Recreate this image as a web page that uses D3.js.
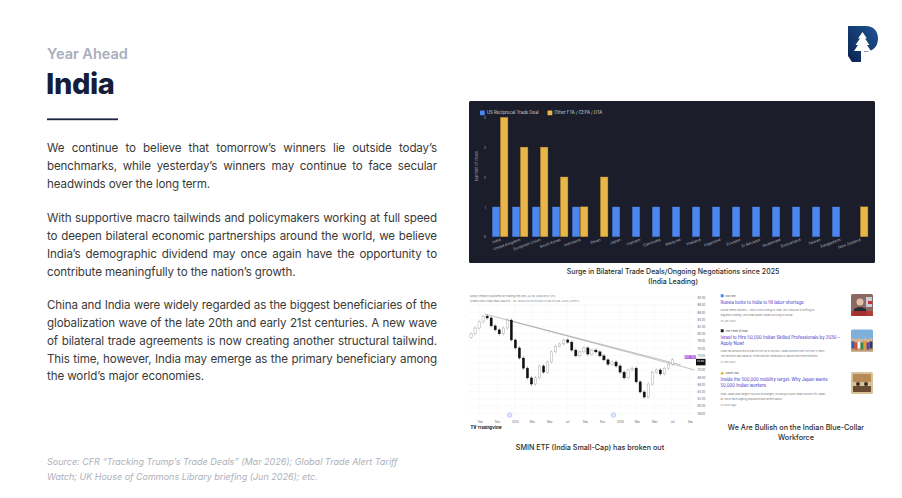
<!DOCTYPE html>
<html>
<head>
<meta charset="utf-8">
<script src="https://cdn.jsdelivr.net/npm/d3@7"></script>
<style>
  body { margin: 0; width: 902px; height: 498px; overflow: hidden; background: #fff; }
  svg { display: block; font-family: Inter, 'Noto Sans', sans-serif; }
</style>
</head>
<body>
<script>
// ---- bar chart data (deals per country) ----
const categories = ['India', 'United Kingdom', 'European Union', 'South Korea', 'Indonesia', 'Oman', 'Japan',
  'Vietnam', 'Cambodia', 'Malaysia', 'Thailand', 'Argentina', 'Ecuador', 'El Salvador', 'Guatemala',
  'Switzerland', 'Taiwan', 'Bangladesh', 'New Zealand'];
const usDeals    = [1, 1, 1, 1, 1, 0, 1, 1, 1, 1, 1, 1, 1, 1, 1, 1, 1, 1, 0];
const otherDeals = [4, 3, 3, 2, 1, 2, 0, 0, 0, 0, 0, 0, 0, 0, 0, 0, 0, 0, 1];
const dealTicks = [0, 1, 2, 3, 4];
const seriesNames = ['US Reciprocal Trade Deal', 'Other FTA / CEPA / DTA'];

// ---- SMIN weekly chart (bi-weekly closes) ----
const smStart = '2024-08-02';
const smFirstOpen = 79.0;
const smCloses = [80.0, 81.6, 83.3, 84.9, 84.4, 82.2, 81.1, 80.0, 81.6, 83.8,
  78.3, 76.1, 73.3, 70.5, 67.8, 66.1, 67.8, 71.1, 69.4, 72.2,
  75.0, 76.6, 77.2, 78.3, 77.7, 75.5, 73.9, 75.0, 76.1, 74.4,
  75.5, 75.0, 73.9, 72.8, 71.6, 72.2, 71.1, 69.4, 67.8, 70.0,
  70.5, 66.7, 63.9, 62.5, 66.1, 69.4, 70.0, 68.9, 70.5, 71.6, 72.8];
const smPriceTicks = [58, 60, 62, 64, 66, 68, 70, 72, 74, 76, 78, 80, 82, 84, 86, 88, 90];
const smDateTicks = ['2024-09-01', '2024-11-01', '2025-01-01', '2025-03-01', '2025-05-01', '2025-07-01',
  '2025-09-01', '2025-11-01', '2026-01-01', '2026-03-01', '2026-05-01', '2026-07-01', '2026-09-01'];
const smDateLabels = ['Sep', 'Nov', '2025', 'Mar', 'May', 'Jul', 'Sep', 'Nov', '2026', 'Mar', 'May', 'Jul', 'Sep'];
const smEvents = ['2024-12-14', '2025-12-10'];
const trendLines = [
  [['2024-09-18', 85.5], ['2026-09-18', 70.0]],
  [['2024-12-08', 83.8], ['2026-08-01', 71.4]]
];
const smLast = 72.8;

// ---- text content ----
const paragraphs = [
  ['We continue to believe that tomorrow\u2019s winners lie outside today\u2019s',
   'benchmarks, while yesterday\u2019s winners may continue to face secular',
   'headwinds over the long term.'],
  ['With supportive macro tailwinds and policymakers working at full speed',
   'to deepen bilateral economic partnerships around the world, we believe',
   'India\u2019s demographic dividend may once again have the opportunity to',
   'contribute meaningfully to the nation\u2019s growth.'],
  ['China and India were widely regarded as the biggest beneficiaries of the',
   'globalization wave of the late 20th and early 21st centuries. A new wave',
   'of bilateral trade agreements is now creating another structural tailwind.',
   'This time, however, India may emerge as the primary beneficiary among',
   'the world\u2019s major economies.']
];
const paraTops = [148, 218, 305];
const sourceLines = ['Source: CFR \u201cTracking Trump\u2019s Trade Deals\u201d (Mar 2026); Global Trade Alert Tariff',
  'Watch; UK House of Commons Library briefing (Jun 2026); etc.'];

const newsSources = ['DW.com', 'The Times of India', 'Nikkei Asia'];
const newsTitles = [
  ['Russia looks to India to fill labor shortage'],
  ['Israel to Hire 50,000 Indian Skilled Professionals by 2030 \u2013', 'Apply Now!'],
  ['Inside the 500,000 mobility target: Why Japan wants', '50,000 Indian workers']
];
const newsSnippets = [
  ['Russia needs workers \u2014 and is now turning to India. Why Moscow is shifting its',
   'migration strategy, and what awaits Indians arriving in Russia ...'],
  ['Israel has announced its plan to hire up to 50,000+ Indian workers over the next 5 years.',
   'The decision was made by Prime Minister Netanyahu\u2019s cabinet and three ministers ...'],
  ['India, Japan plan targets 500,000 exchanges, including 50,000 Indian workers for Japan,',
   'as Tokyo faces ageing population and severe labour ...']
];
const newsDates = ['25 Jan 2026', '27 Feb 2026', '23 hours ago'];

const W = 902, H = 498;
const svg = d3.select('body').append('svg').attr('width', W).attr('height', H);
svg.append('rect').attr('width', W).attr('height', H).attr('fill', '#fff');

// ============================================================
// Header + left column
// ============================================================
svg.append('text').attr('x', 47).attr('y', 58.5).text('Year Ahead')
  .attr('font-size', 14.5).attr('font-weight', 600).attr('fill', '#a9aebb');
svg.append('text').attr('x', 46).attr('y', 93.5).text('India')
  .attr('font-size', 29).attr('font-weight', 800).attr('fill', '#141d3a').attr('letter-spacing', -0.4);
svg.append('rect').attr('x', 47).attr('y', 118.4).attr('width', 71).attr('height', 1.8).attr('fill', '#1b2440');

const bodyW = 390;
paragraphs.forEach((lines, p) => {
  lines.forEach((ln, i) => {
    const t = svg.append('text')
      .attr('x', 47).attr('y', paraTops[p] + i * 17.8 + 4.2)
      .attr('font-size', 11.6).attr('letter-spacing', -0.12).attr('fill', '#3a3a3a')
      .text(ln);
    // justify every line except the last one of a paragraph
    if (i < lines.length - 1) {
      const w = t.node().getComputedTextLength();
      const gaps = ln.split(' ').length - 1;
      t.attr('word-spacing', (bodyW - w) / gaps);
    }
  });
});

sourceLines.forEach((ln, i) => {
  svg.append('text').attr('x', 47).attr('y', 465 + i * 14.5)
    .attr('font-size', 9).attr('font-style', 'italic').attr('fill', '#adb1ba').text(ln);
});

// logo
const defs = svg.append('defs');
const lg = defs.append('linearGradient').attr('id', 'logoGrad')
  .attr('x1', 0).attr('y1', 1).attr('x2', 1).attr('y2', 0);
lg.append('stop').attr('offset', 0).attr('stop-color', '#0a2250');
lg.append('stop').attr('offset', 1).attr('stop-color', '#1f5494');
svg.append('path')
  .attr('d', 'M848,26 H866 C873.5,26 878,31 878,38.5 C878,46 873.5,51.5 866,51.5 H863 V62 H852 L848,56 Z')
  .attr('fill', 'url(#logoGrad)');
svg.append('path')
  .attr('d', 'M862.5,32 L867,38.5 L865,38.5 L869.5,45 L867,45 L871,51 L864,51 L864,62 L861,62 L861,51 L854,51 L858,45 L855.5,45 L860,38.5 L858,38.5 Z')
  .attr('fill', '#fff');

// ============================================================
// Bar chart: bilateral trade deals
// ============================================================
const panel = svg.append('g');
panel.append('rect').attr('x', 469).attr('y', 101).attr('width', 406).attr('height', 162)
  .attr('rx', 1.5).attr('fill', '#1b1e2a');

const x0 = d3.scaleBand().domain(categories).range([488.3, 871.9]).paddingInner(0.22).paddingOuter(0.2);
const x1 = d3.scaleBand().domain(['us', 'other']).range([0, x0.bandwidth()]).paddingInner(0.08);
const yD = d3.scaleLinear().domain([0, 4]).range([236.7, 117.3]);
const barColors = { us: '#4b87ef', other: '#e8b548' };

const rows = categories.map((c, i) => ({ c, us: usDeals[i], other: otherDeals[i] }));
const grp = panel.selectAll('g.grp').data(rows).join('g').attr('class', 'grp')
  .attr('transform', d => `translate(${x0(d.c)},0)`);
grp.selectAll('rect').data(d => ['us', 'other'].map(k => ({ k, v: d[k] })).filter(e => e.v > 0))
  .join('rect')
  .attr('x', e => x1(e.k)).attr('width', x1.bandwidth())
  .attr('y', e => yD(e.v)).attr('height', e => yD(0) - yD(e.v))
  .attr('fill', e => barColors[e.k])
  .attr('stroke', e => e.k === 'other' ? '#b88a2a' : 'none').attr('stroke-width', 0.4);

const yAx = panel.append('g').attr('transform', 'translate(487,0)')
  .call(d3.axisLeft(yD).tickValues(dealTicks).tickSize(0).tickPadding(1).tickFormat(d3.format('d')));
yAx.select('.domain').remove();
yAx.selectAll('text').attr('font-size', 3.6).attr('fill', '#9aa0ab').attr('font-family', 'Inter, sans-serif');

panel.append('text').attr('transform', 'translate(477.5,166) rotate(-90)')
  .attr('text-anchor', 'middle').attr('font-size', 3.8).attr('fill', '#9aa0ab').text('Number of deals');

const xAx = panel.append('g').attr('transform', 'translate(0,238.5)')
  .call(d3.axisBottom(x0).tickSize(0).tickPadding(0));
xAx.select('.domain').remove();
xAx.selectAll('text')
  .attr('font-size', 3.8).attr('fill', '#a2a7b2').attr('font-family', 'Inter, sans-serif')
  .attr('text-anchor', 'end').attr('dy', '0.6em')
  .attr('transform', 'rotate(-20)');

// legend
const legX = [480, 547.5];
seriesNames.forEach((s, i) => {
  panel.append('rect').attr('x', legX[i]).attr('y', 110.5).attr('width', 4.8).attr('height', 4.8)
    .attr('rx', 0.6).attr('fill', i === 0 ? barColors.us : barColors.other);
  panel.append('text').attr('x', legX[i] + 6.8).attr('y', 114.4)
    .attr('font-size', 4.3).attr('fill', '#d2d6de').text(s);
});

svg.append('text').attr('x', 673).attr('y', 273.5).attr('text-anchor', 'middle')
  .attr('font-size', 7).attr('font-weight', 500).attr('fill', '#2b2b2b')
  .text('Surge in Bilateral Trade Deals/Ongoing Negotiations since 2025');
svg.append('text').attr('x', 673).attr('y', 283.5).attr('text-anchor', 'middle')
  .attr('font-size', 7).attr('font-weight', 500).attr('fill', '#2b2b2b').text('(India Leading)');

// ============================================================
// SMIN candlestick chart
// ============================================================
const parse = d3.utcParse('%Y-%m-%d');
const xT = d3.scaleUtc().domain([parse('2024-09-01'), parse('2026-09-01')]).range([479.7, 689.7]);
const yP = d3.scaleLinear().domain([58, 90]).range([413.3, 297.7]);
const sm = svg.append('g');

sm.selectAll('line.hg').data(smPriceTicks).join('line').attr('class', 'hg')
  .attr('x1', 469).attr('x2', 694).attr('y1', d => yP(d)).attr('y2', d => yP(d))
  .attr('stroke', '#f2f3f5').attr('stroke-width', 0.5);
sm.selectAll('line.vg').data(smDateTicks).join('line').attr('class', 'vg')
  .attr('x1', d => xT(parse(d))).attr('x2', d => xT(parse(d))).attr('y1', 304).attr('y2', 416)
  .attr('stroke', '#f4f5f7').attr('stroke-width', 0.5);

// price axis; the label hidden under the last-price tag is left blank, as on the platform
const pAx = sm.append('g').attr('transform', 'translate(696,0)')
  .call(d3.axisRight(yP).tickValues(smPriceTicks).tickSize(0).tickPadding(1.5)
    .tickFormat(d => Math.abs(yP(d) - yP(smLast)) < 4 ? '' : d3.format('.2f')(d)));
pAx.select('.domain').remove();
pAx.selectAll('text').attr('font-size', 2.8).attr('fill', '#666').attr('font-family', 'Inter, sans-serif');

const tAx = sm.append('g').attr('transform', 'translate(0,418.5)')
  .call(d3.axisBottom(xT).tickValues(smDateTicks.map(parse)).tickSize(0)
    .tickFormat((d, i) => smDateLabels[i]));
tAx.select('.domain').remove();
tAx.selectAll('text').attr('font-size', 2.8).attr('fill', '#666').attr('font-family', 'Inter, sans-serif');

// trend lines
trendLines.forEach(tl => {
  sm.append('line')
    .attr('x1', xT(parse(tl[0][0]))).attr('y1', yP(tl[0][1]))
    .attr('x2', xT(parse(tl[1][0]))).attr('y2', yP(tl[1][1]))
    .attr('stroke', '#9a9a9a').attr('stroke-width', 0.6);
});

// candles
const t0 = parse(smStart);
const candles = smCloses.map((c, i) => ({
  t: d3.utcDay.offset(t0, i * 14),
  o: i === 0 ? smFirstOpen : smCloses[i - 1],
  c
}));
const cw = 2.3;
const cg = sm.selectAll('g.cd').data(candles).join('g').attr('class', 'cd');
cg.append('line')
  .attr('x1', d => xT(d.t)).attr('x2', d => xT(d.t))
  .attr('y1', d => yP(Math.max(d.o, d.c)) - 1.6).attr('y2', d => yP(Math.min(d.o, d.c)) + 1.6)
  .attr('stroke', d => d.c >= d.o ? '#8a8a8a' : '#111').attr('stroke-width', 0.4);
cg.append('rect')
  .attr('x', d => xT(d.t) - cw / 2).attr('width', cw)
  .attr('y', d => yP(Math.max(d.o, d.c)))
  .attr('height', d => Math.max(0.6, Math.abs(yP(d.o) - yP(d.c))))
  .attr('fill', d => d.c >= d.o ? '#fff' : '#111')
  .attr('stroke', d => d.c >= d.o ? '#8a8a8a' : '#111').attr('stroke-width', 0.35);

// price tags
sm.append('rect').attr('x', 684.5).attr('y', 355.4).attr('width', 11.5).attr('height', 3.4)
  .attr('fill', '#a24fd8');
sm.append('text').attr('x', 690.2).attr('y', 357.9).attr('text-anchor', 'middle')
  .attr('font-size', 2.3).attr('fill', '#fff').text('SMIN \u00b7 BATS');
sm.append('rect').attr('x', 696).attr('y', yP(smLast) - 1).attr('width', 9.5).attr('height', 6.5)
  .attr('fill', '#111');
sm.append('text').attr('x', 697).attr('y', yP(smLast) + 2.2)
  .attr('font-size', 2.6).attr('fill', '#fff').text(d3.format('.2f')(smLast));

// header lines
sm.append('text').attr('x', 470).attr('y', 297).attr('font-size', 2.5).attr('fill', '#777')
  .text('sanjay_research published on TradingView.com, Jul 06, 2026 09:21 UTC');
sm.append('text').attr('x', 470).attr('y', 302).attr('font-size', 2.5).attr('fill', '#777')
  .text('iShares MSCI India Small-Cap ETF \u00b7 1W \u00b7 BATS   O72.10  H73.05  L71.60  C72.80  +0.70 (+0.97%)');

// event markers
smEvents.forEach(d => {
  sm.append('circle').attr('cx', xT(parse(d))).attr('cy', 415).attr('r', 2.3)
    .attr('fill', '#dfe6ff').attr('stroke', '#7d97ff').attr('stroke-width', 0.4);
});

// TradingView mark
sm.append('text').attr('x', 470.5).attr('y', 429.3).attr('font-size', 4.2).attr('font-weight', 800)
  .attr('fill', '#131722').text('TV');
sm.append('text').attr('x', 477.5).attr('y', 429.3).attr('font-size', 3.9).attr('font-weight', 700)
  .attr('fill', '#131722').text('TradingView');

svg.append('text').attr('x', 590).attr('y', 449.5).attr('text-anchor', 'middle')
  .attr('font-size', 7.2).attr('font-weight', 500).attr('fill', '#2b2b2b')
  .text('SMIN ETF (India Small-Cap) has broken out');

// ============================================================
// News cards
// ============================================================
const newsTops = [295.7, 330.7, 373.3];
const iconColors = ['#3d8ef0', '#222', '#e8b83a'];
const thumbTops = [294, 329.5, 372];
const news = svg.append('g');
newsTops.forEach((y, i) => {
  if (i === 2) news.append('circle').attr('cx', 722.2).attr('cy', y).attr('r', 1.5).attr('fill', iconColors[i]);
  else news.append('rect').attr('x', 720.7).attr('y', y - 1.5).attr('width', 3).attr('height', 3)
    .attr('rx', 0.4).attr('fill', iconColors[i]);
  news.append('text').attr('x', 725.5).attr('y', y + 0.9).attr('font-size', 2.5).attr('fill', '#444')
    .text(newsSources[i]);
  let yy = y + 7.8;
  newsTitles[i].forEach(tl => {
    news.append('text').attr('x', 720.5).attr('y', yy).attr('font-size', 4.3).attr('fill', '#3a33c6').text(tl);
    yy += 6.2;
  });
  yy += 1.2;
  newsSnippets[i].forEach(sn => {
    news.append('text').attr('x', 720.5).attr('y', yy).attr('font-size', 2.5).attr('fill', '#777').text(sn);
    yy += 5.2;
  });
  news.append('text').attr('x', 720.5).attr('y', yy + 0.4).attr('font-size', 2.5).attr('fill', '#888')
    .text(newsDates[i]);
});

// thumbnails (photo placeholders)
const th = news.append('g');
const t1 = th.append('g').attr('transform', `translate(851,${thumbTops[0]})`);
t1.append('rect').attr('width', 22).attr('height', 22).attr('rx', 1.5).attr('fill', '#8a6a62');
t1.append('rect').attr('x', 15).attr('y', 3).attr('width', 6).attr('height', 10).attr('fill', '#c8cbd8');
t1.append('rect').attr('x', 17).attr('y', 7).attr('width', 4).attr('height', 3).attr('fill', '#c0353a');
t1.append('circle').attr('cx', 9).attr('cy', 8).attr('r', 3.5).attr('fill', '#e2c1ac');
t1.append('path').attr('d', 'M2,22 L3,15 Q9,11 15,15 L16,22 Z').attr('fill', '#2a2a33');
t1.append('rect').attr('x', 0).attr('y', 17).attr('width', 22).attr('height', 5).attr('fill', '#b8322e').attr('opacity', 0.85);

const t2 = th.append('g').attr('transform', `translate(851,${thumbTops[1]})`);
t2.append('rect').attr('width', 22).attr('height', 22).attr('rx', 1.5).attr('fill', '#7fb0da');
t2.append('rect').attr('y', 11).attr('width', 22).attr('height', 11).attr('fill', '#c79a6b');
[2, 5, 8, 11, 14, 17, 20].forEach((cx, k) => {
  t2.append('circle').attr('cx', cx).attr('cy', 10 + (k % 2)).attr('r', 1.5).attr('fill', '#e0b48f');
  t2.append('rect').attr('x', cx - 1.4).attr('y', 12 + (k % 2)).attr('width', 2.8).attr('height', 7)
    .attr('fill', ['#2f5ca8', '#d24a3a', '#f2f2f2', '#2a8a5a', '#e0a02a', '#6b3fa0', '#1f3f6f'][k]);
});

const t3 = th.append('g').attr('transform', `translate(851,${thumbTops[2]})`);
t3.append('rect').attr('width', 22).attr('height', 22).attr('rx', 1.5).attr('fill', '#d8c29a');
t3.append('rect').attr('x', 2).attr('y', 2).attr('width', 18).attr('height', 8).attr('fill', '#b58a55');
t3.append('rect').attr('x', 2).attr('y', 14).attr('width', 18).attr('height', 6).attr('fill', '#6b4a32');
t3.append('circle').attr('cx', 7).attr('cy', 12).attr('r', 2).attr('fill', '#3b2d28');
t3.append('circle').attr('cx', 15).attr('cy', 12).attr('r', 2).attr('fill', '#3b2d28');

svg.append('text').attr('x', 796).attr('y', 429.5).attr('text-anchor', 'middle')
  .attr('font-size', 7.2).attr('font-weight', 500).attr('fill', '#2b2b2b')
  .text('We Are Bullish on the Indian Blue-Collar');
svg.append('text').attr('x', 796).attr('y', 439.5).attr('text-anchor', 'middle')
  .attr('font-size', 7.2).attr('font-weight', 500).attr('fill', '#2b2b2b').text('Workforce');
</script>
</body>
</html>
